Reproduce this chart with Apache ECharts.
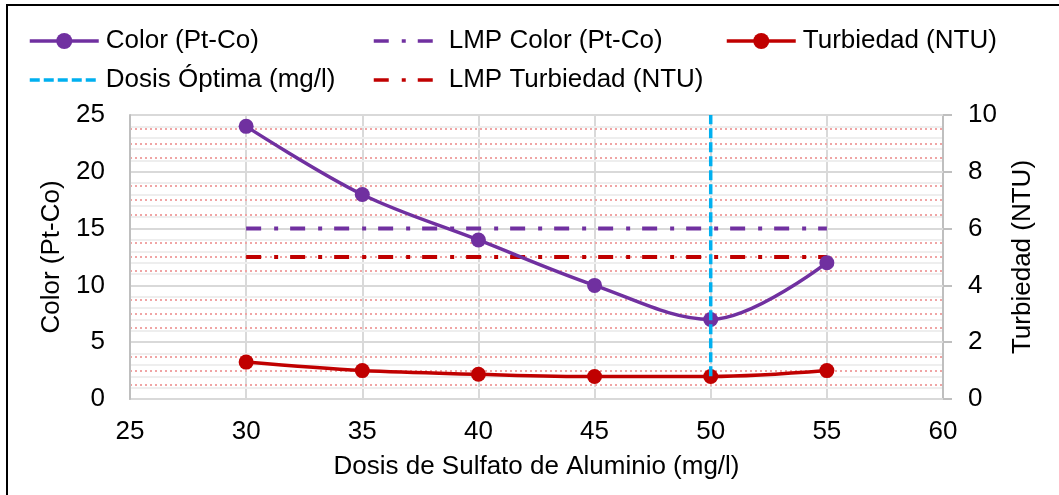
<!DOCTYPE html>
<html>
<head>
<meta charset="utf-8">
<script src="https://cdn.jsdelivr.net/npm/echarts@6/dist/echarts.min.js"></script>
<style>
html,body{margin:0;padding:0;background:#fff;}
#chart{width:1059px;height:495px;}
</style>
</head>
<body>
<div id="chart"></div>
<script>
// ---- data ----
const dosis = [30, 35, 40, 45, 50, 55];
const color = [24, 18, 14, 10, 7, 12];
const turbiedad = [1.3, 1.0, 0.87, 0.79, 0.79, 1.0];
const lmpColorX = [30, 55];
const lmpColorY = [15, 15];
const lmpTurbX = [30, 55];
const lmpTurbY = [5, 5];
const dosisOptX = [50, 50];
const dosisOptY = [2, 25];
const xTicks = {min: 25, max: 60, interval: 5};
const yLeftTicks = {min: 0, max: 25, interval: 5};
const yRightTicks = {min: 0, max: 10, interval: 2};

const names = {
  color: 'Color (Pt-Co)',
  lmpColor: 'LMP Color (Pt-Co)',
  turb: 'Turbiedad (NTU)',
  dosis: 'Dosis Óptima (mg/l)',
  lmpTurb: 'LMP Turbiedad (NTU)'
};

const FONT = 'Liberation Sans, Arial, sans-serif';
const FS = 26;
const PURPLE = '#7030A0', RED = '#C00000', CYAN = '#00B0F0';

const zip = (a, b) => a.map((v, i) => [v, b[i]]);

function legendAt(name, left, top, w, pad) {
  return {
    data: [name], left: left, top: top, orient: 'horizontal',
    itemWidth: w, itemHeight: 20, padding: 0,
    lineStyle: {width: 3.5},
    textStyle: {fontFamily: FONT, fontSize: FS, color: '#000', padding: [0, 0, 0, pad]},
    selectedMode: false
  };
}

const chart = echarts.init(document.getElementById('chart'), null, {renderer: 'canvas'});
chart.setOption({
  animation: false,
  backgroundColor: '#fff',
  textStyle: {fontFamily: FONT},
  graphic: [{
    type: 'rect', shape: {x: 7, y: 5, width: 1100, height: 600},
    style: {fill: 'none', stroke: '#000', lineWidth: 2}, silent: true, z: 100
  }],
  legend: [
    legendAt(names.color, 28, 28, 69, 2),
    legendAt(names.lmpColor, 372, 28, 60, 10),
    legendAt(names.turb, 725, 28, 69, 2),
    legendAt(names.dosis, 28, 67, 69, 2),
    legendAt(names.lmpTurb, 372, 67, 60, 10)
  ],
  grid: {left: 130, right: 116, top: 115, bottom: 96, containLabel: false},
  xAxis: {
    type: 'value', min: xTicks.min, max: xTicks.max, interval: xTicks.interval,
    name: 'Dosis de Sulfato de Aluminio (mg/l)', nameLocation: 'middle', nameGap: 55,
    nameTextStyle: {fontFamily: FONT, fontSize: FS, color: '#000'},
    axisLine: {show: true, lineStyle: {color: '#BFBFBF', width: 2}},
    axisTick: {show: false},
    axisLabel: {fontFamily: FONT, fontSize: FS, color: '#000', margin: 20},
    splitLine: {show: true, lineStyle: {color: '#D9D9D9', width: 2}}
  },
  yAxis: [{
    type: 'value', min: yLeftTicks.min, max: yLeftTicks.max, interval: yLeftTicks.interval,
    name: 'Color (Pt-Co)', nameLocation: 'middle', nameGap: 61, nameRotate: 90,
    nameTextStyle: {fontFamily: FONT, fontSize: FS, color: '#000'},
    axisLine: {show: true, lineStyle: {color: '#BFBFBF', width: 2}},
    axisTick: {show: false},
    axisLabel: {fontFamily: FONT, fontSize: FS, color: '#000', margin: 25},
    splitLine: {show: true, lineStyle: {color: '#D9D9D9', width: 2}},
    minorTick: {show: false, splitNumber: 4},
    minorSplitLine: {show: true, lineStyle: {color: '#F0A5A5', width: 2, type: [2, 3]}},
    z: 3
  }, {
    type: 'value', min: yRightTicks.min, max: yRightTicks.max, interval: yRightTicks.interval,
    position: 'right',
    name: 'Turbiedad (NTU)', nameLocation: 'middle', nameGap: 67, nameRotate: 90,
    nameTextStyle: {fontFamily: FONT, fontSize: FS, color: '#000'},
    axisLine: {show: true, lineStyle: {color: '#BFBFBF', width: 2}},
    axisTick: {show: true, length: 9, lineStyle: {color: '#BFBFBF', width: 2}},
    axisLabel: {fontFamily: FONT, fontSize: FS, color: '#000', margin: 25},
    splitLine: {show: false},
    minorTick: {show: false, splitNumber: 5},
    minorSplitLine: {show: true, lineStyle: {color: '#EEEEEE', width: 2}},
    z: 2
  }],
  series: [{
    name: names.color, type: 'line', yAxisIndex: 0, data: zip(dosis, color),
    smooth: 0.35, symbol: 'circle', symbolSize: 15,
    lineStyle: {color: PURPLE, width: 3.5}, itemStyle: {color: PURPLE}, z: 5
  }, {
    name: names.lmpColor, type: 'line', yAxisIndex: 0, data: zip(lmpColorX, lmpColorY),
    showSymbol: false, symbol: 'none',
    lineStyle: {color: PURPLE, width: 4, type: [15, 13, 4, 12], cap: 'butt'},
    itemStyle: {color: PURPLE, opacity: 0}, z: 4
  }, {
    name: names.turb, type: 'line', yAxisIndex: 1, data: zip(dosis, turbiedad),
    smooth: 0.35, symbol: 'circle', symbolSize: 15,
    lineStyle: {color: RED, width: 3.5}, itemStyle: {color: RED}, z: 5
  }, {
    name: names.dosis, type: 'line', yAxisIndex: 0, data: zip(dosisOptX, dosisOptY),
    showSymbol: false, symbol: 'none',
    lineStyle: {color: CYAN, width: 3.5, type: [10, 4], cap: 'butt'},
    itemStyle: {color: CYAN, opacity: 0}, z: 6
  }, {
    name: names.lmpTurb, type: 'line', yAxisIndex: 1, data: zip(lmpTurbX, lmpTurbY),
    showSymbol: false, symbol: 'none',
    lineStyle: {color: RED, width: 4, type: [15, 13, 4, 12], cap: 'butt'},
    itemStyle: {color: RED, opacity: 0}, z: 4
  }]
});
</script>
</body>
</html>
